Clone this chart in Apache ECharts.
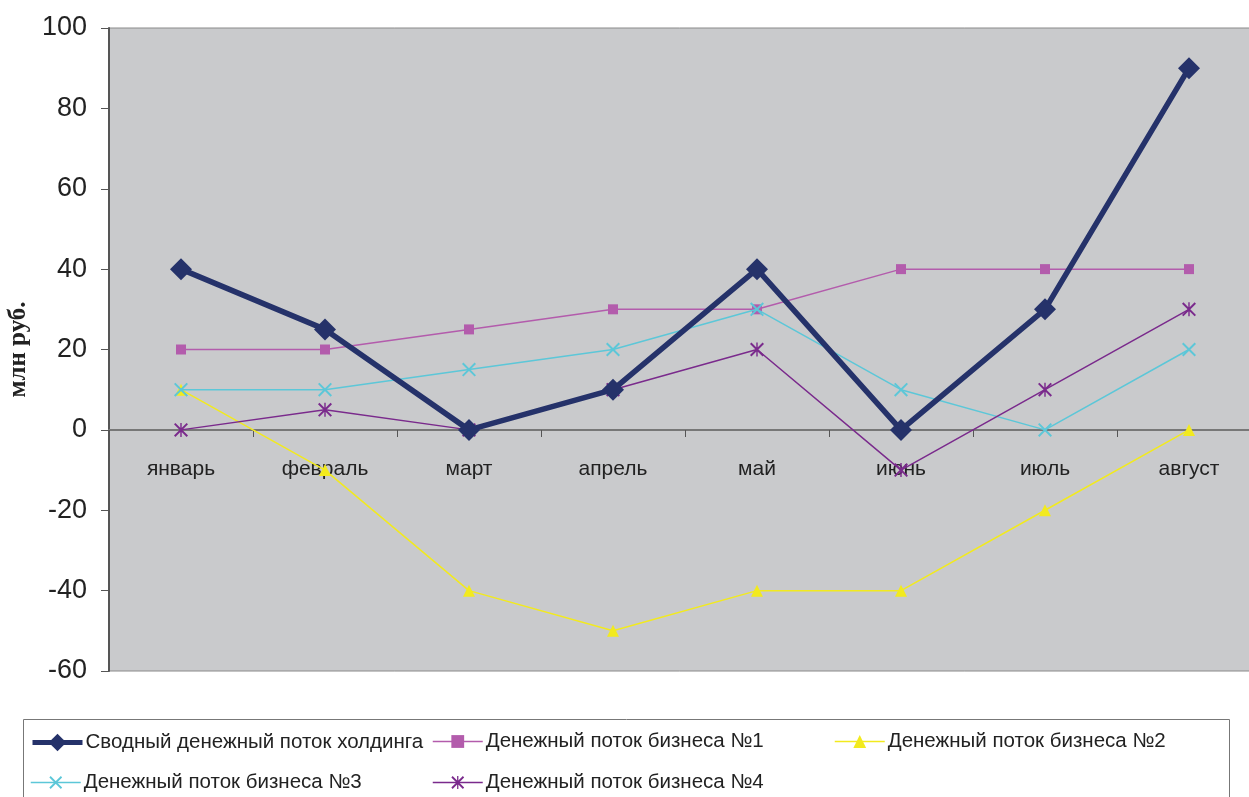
<!DOCTYPE html>
<html>
<head>
<meta charset="utf-8">
<script src="https://cdn.jsdelivr.net/npm/echarts@6/dist/echarts.min.js"></script>
<style>
  html, body { margin: 0; padding: 0; background: #fff; }
  #chart { width: 1249px; height: 797px; }
</style>
</head>
<body>
<div id="chart"></div>
<script>
/* ---------- данные ---------- */
const months = ['январь', 'февраль', 'март', 'апрель', 'май', 'июнь', 'июль', 'август']
const holding = [40, 25, 0, 10, 40, 0, 30, 90]
const biz1 = [20, 20, 25, 30, 30, 40, 40, 40]
const biz2 = [10, -10, -40, -50, -40, -40, -20, 0]
const biz3 = [10, 10, 15, 20, 30, 10, 0, 20]
const biz4 = [0, 5, 0, 10, 20, -10, 10, 30]
const yTicks = { min: -60, max: 100, step: 20 }

const names = [
  'Сводный денежный поток холдинга',
  'Денежный поток бизнеса №1',
  'Денежный поток бизнеса №2',
  'Денежный поток бизнеса №3',
  'Денежный поток бизнеса №4'
]

/* ---------- маркеры ---------- */
const crossPath = 'path://M0,1L1,0L10,9L9,10Z M9,0L10,1L1,10L0,9Z'
const starPath = 'path://M0,1L1,0L10,9L9,10Z M9,0L10,1L1,10L0,9Z M4.5,0L5.5,0L5.5,10L4.5,10Z'

const font = "'Liberation Sans Narrow', 'Liberation Sans', Arial, sans-serif"

const chart = echarts.init(document.getElementById('chart'))

function legendAt(name, left, top, h, lw) {
  return {
    data: [name],
    left: left,
    top: top,
    itemWidth: 50,
    itemHeight: h,
    itemGap: 0,
    padding: 0,
    selectedMode: false,
    lineStyle: { width: lw },
    textStyle: { fontFamily: font, fontSize: 20.5, color: '#222', padding: [0, 0, 0, -2] }
  }
}

chart.setOption({
  animation: false,
  grid: {
    left: 109,
    top: 28,
    width: 1152,
    height: 643,
    outerBoundsMode: 'none',
    containLabel: false,
    show: true,
    backgroundColor: '#C9CACC',
    borderColor: '#8a8a8a',
    borderWidth: 1
  },
  graphic: [
    {
      type: 'rect',
      shape: { x: 23.5, y: 719.5, width: 1206, height: 100 },
      style: { fill: 'none', stroke: '#777', lineWidth: 1 }
    }
  ],
  legend: [
    legendAt(names[0], 30, 732, 22, 5),
    legendAt(names[1], 432, 731, 16, 1.5),
    legendAt(names[2], 834, 731, 16, 1.5),
    legendAt(names[3], 30, 772, 16, 1.5),
    legendAt(names[4], 432, 772, 16, 1.5)
  ],
  xAxis: {
    type: 'category',
    data: months,
    boundaryGap: true,
    offset: -241,
    axisLine: { onZero: false, lineStyle: { color: '#777', width: 2 } },
    axisTick: { show: true, length: 7, lineStyle: { color: '#555' } },
    axisLabel: { fontFamily: font, fontSize: 21, color: '#222', margin: 29 },
    splitLine: { show: false }
  },
  yAxis: {
    type: 'value',
    min: yTicks.min,
    max: yTicks.max,
    interval: yTicks.step,
    name: 'млн руб.',
    nameLocation: 'middle',
    nameRotate: 90,
    nameGap: 77,
    nameTextStyle: {
      fontFamily: "'Liberation Serif', 'DejaVu Serif', serif",
      fontSize: 25,
      fontWeight: 'bold',
      color: '#222'
    },
    axisLine: { show: true, lineStyle: { color: '#555', width: 2 } },
    axisTick: { show: true, length: 8, lineStyle: { color: '#555' } },
    axisLabel: { fontFamily: font, fontSize: 27, color: '#222', margin: 22 },
    splitLine: { show: false }
  },
  series: [
    {
      name: names[1], type: 'line', data: biz1,
      symbol: 'rect', symbolSize: 10,
      lineStyle: { color: '#B35CAC', width: 1.5 },
      itemStyle: { color: '#B35CAC' }, z: 3
    },
    {
      name: names[2], type: 'line', data: biz2,
      symbol: 'triangle', symbolSize: 12,
      lineStyle: { color: '#F2EA1E', width: 1.5 },
      itemStyle: { color: '#F2EA1E' }, z: 2
    },
    {
      name: names[3], type: 'line', data: biz3,
      symbol: crossPath, symbolSize: 14,
      lineStyle: { color: '#5CC7D8', width: 1.5 },
      itemStyle: { color: '#5CC7D8' }, z: 4
    },
    {
      name: names[4], type: 'line', data: biz4,
      symbol: starPath, symbolSize: 14,
      lineStyle: { color: '#7A2A8C', width: 1.5 },
      itemStyle: { color: '#7A2A8C' }, z: 5
    },
    {
      name: names[0], type: 'line', data: holding,
      symbol: 'diamond', symbolSize: 22,
      lineStyle: { color: '#25326A', width: 5.5 },
      itemStyle: { color: '#25326A' }, z: 6
    }
  ]
})
</script>
</body>
</html>
